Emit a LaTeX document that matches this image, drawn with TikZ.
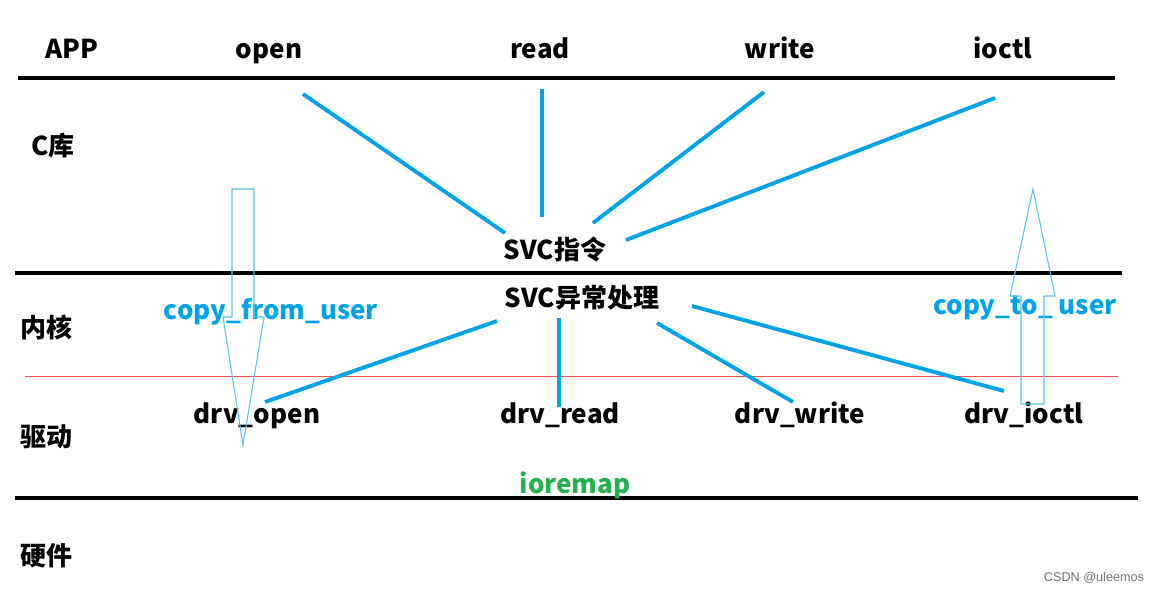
\documentclass[tikz,border=0pt]{standalone}
\usepackage{fontspec}
\setmainfont{Noto Sans CJK SC}
\newfontfamily\wmfont{Liberation Sans}
\definecolor{lineblue}{HTML}{00A2E8}
\definecolor{arrowblue}{HTML}{5BC3EE}
\definecolor{iogreen}{HTML}{22B14C}
\definecolor{redline}{HTML}{F05050}
\begin{document}
\begin{tikzpicture}[x=0.75pt,y=-0.75pt,
  lbl/.style={font=\fontsize{19.5}{23}\selectfont\bfseries, inner sep=0pt, anchor=base},
  bluelbl/.style={lbl, text=lineblue},
  sep/.style={line width=2.6pt, black},
  link/.style={line width=2.9pt, lineblue},
  hollow/.style={draw=arrowblue, line width=0.8pt}]
\useasboundingbox (0,0) rectangle (1159,592);
\fill[white] (0,0) rectangle (1159,592);
% separators
\draw[sep] (18,78) -- (1115,78);
\draw[sep] (15,273) -- (1122,273);
\draw[redline, line width=0.6pt] (25,376) -- (1118,376);
\draw[sep] (15,498) -- (1138,498);
% labels
\node[lbl] (app) at (72,59) {APP};
\node[lbl] (open) at (269,59) {open};
\node[lbl] (read) at (540,59) {read};
\node[lbl] (write) at (780,59) {write};
\node[lbl] (ioctl) at (1003,59) {ioctl};
\node[lbl] (clib) at (53,155) {C库};
\node[lbl] (svc) at (555,259) {SVC指令};
\node[lbl] (svcx) at (582,307) {SVC异常处理};
\node[lbl] (kernel) at (47,337) {内核};
\node[lbl] (dopen) at (257,423) {drv\_open};
\node[lbl] (dread) at (560,423) {drv\_read};
\node[lbl] (dwrite) at (800,423) {drv\_write};
\node[lbl] (dioctl) at (1024,423) {drv\_ioctl};
\node[lbl] (driver) at (46,446) {驱动};
\node[lbl, text=iogreen] (ioremap) at (575,493) {ioremap};
\node[lbl] (hw) at (46,565) {硬件};
\node[bluelbl] (cfu) at (271,319) {copy\_from\_user};
\node[bluelbl] (ctu) at (1025,314) {copy\_to\_ user};
\node[font=\wmfont\fontsize{9.5}{11}\selectfont, text=black!55, inner sep=0pt] (wm) at (1094,578) {CSDN @uleemos};
% connector endpoints
\coordinate (o1) at (303,94);  \coordinate (o2) at (505,233);
\coordinate (r1) at (542,89);  \coordinate (r2) at (542,217);
\coordinate (w1) at (764,92);  \coordinate (w2) at (593,223);
\coordinate (i1) at (995,98);  \coordinate (i2) at (626,240);
\coordinate (a1) at (497,321); \coordinate (a2) at (265,402);
\coordinate (b1) at (559,318); \coordinate (b2) at (559,407);
\coordinate (c1) at (657,323); \coordinate (c2) at (793,402);
\coordinate (d1) at (692,306); \coordinate (d2) at (1004,391);
\draw[link] (o1) -- (o2);
\draw[link] (r1) -- (r2);
\draw[link] (w1) -- (w2);
\draw[link] (i1) -- (i2);
\draw[link] (a1) -- (a2);
\draw[link] (b1) -- (b2);
\draw[link] (c1) -- (c2);
\draw[link] (d1) -- (d2);
% hollow arrows
\draw[hollow] (232,189) -- (254,189) -- (254,317) -- (264,317) -- (243,445) -- (223,317) -- (232,317) -- cycle;
\draw[hollow] (1021,404) -- (1044,404) -- (1044,296) -- (1055,296) -- (1033,189) -- (1010,296) -- (1021,296) -- cycle;
\end{tikzpicture}
\end{document}
